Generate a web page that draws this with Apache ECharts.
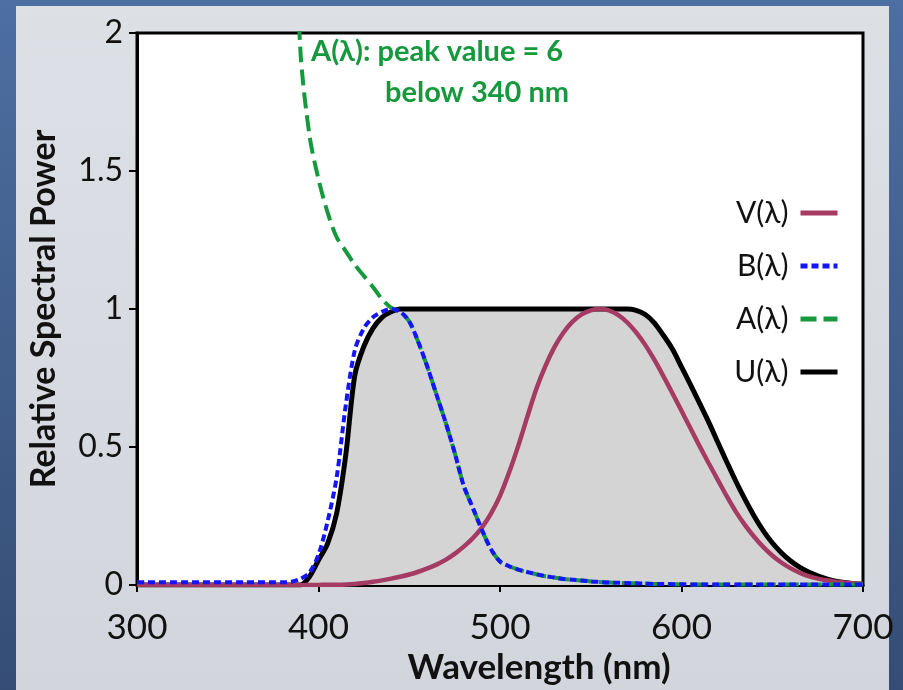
<!DOCTYPE html>
<html>
<head>
<meta charset="utf-8">
<script src="https://cdn.jsdelivr.net/npm/echarts@6/dist/echarts.min.js"></script>
<style>
html,body{margin:0;padding:0;background:#4a6a99;}
#chart{width:903px;height:690px;}
</style>
</head>
<body>
<div id="chart"></div>
<script>
// Wavelength grid (nm)
const wavelengths = [300,305,310,315,320,325,330,335,340,345,350,355,360,365,370,375,
  380,385,390,395,400,405,410,415,420,425,430,435,440,445,450,455,460,465,470,475,
  480,485,490,495,500,505,510,515,520,525,530,535,540,545,550,555,560,565,570,575,
  580,585,590,595,600,605,610,615,620,625,630,635,640,645,650,655,660,665,670,675,
  680,685,690,695,700];

// V(λ) photopic luminous efficiency
const V = [0,0,0,0,0,0,0,0,0,0,0,0,0,0,0,0,
  0.00004,0.00006,0.00012,0.0002,0.0004,0.0006,0.0012,0.0022,0.004,0.0073,0.0116,0.0168,0.023,0.0298,
  0.038,0.048,0.06,0.0739,0.091,0.1126,0.139,0.1693,0.208,0.2586,0.323,0.4073,0.503,0.6082,0.71,0.7932,
  0.862,0.9149,0.954,0.9803,0.995,1.0,0.995,0.9786,0.952,0.9154,0.87,0.8163,0.757,0.6949,0.631,0.5668,
  0.503,0.4412,0.381,0.321,0.265,0.217,0.175,0.1382,0.107,0.0816,0.061,0.0446,0.032,0.0232,0.017,0.0119,
  0.0082,0.0057,0.0041];

// B(λ) blue-light hazard
const B = [0.01,0.01,0.01,0.01,0.01,0.01,0.01,0.01,0.01,0.01,0.01,0.01,0.01,0.01,0.01,0.01,0.01,
  0.012,0.022,0.045,0.11,0.23,0.39,0.65,0.85,0.93,0.97,0.99,1.0,0.99,0.955,0.88,0.79,0.69,0.59,0.48,
  0.36,0.28,0.2,0.13,0.085,0.068,0.056,0.047,0.039,0.032,0.027,0.022,0.019,0.016,0.013,0.011,0.009,0.008,
  0.007,0.006,0.005,0.004,0.004,0.003,0.003,
  0.002,0.002,0.002,0.002,0.002,0.002,0.002,0.002,0.002,0.002,0.002,0.002,0.002,0.002,0.002,0.002,0.002,
  0.002,0.002,0.002];

// A(λ) aphakic hazard (peak 6 below 340 nm)
const A = [6,6,6,6,6,6,6,6,6,5.9,5.7,5.5,5.2,4.7,4.3,3.8,3.4,2.8,1.94,1.63,1.47,1.35,1.26,1.21,1.16,
  1.12,1.08,1.035,1.005,0.99,0.955,0.88,0.79,0.69,0.59,0.48,
  0.36,0.28,0.2,0.13,0.085,0.068,0.056,0.047,0.039,0.032,0.027,0.022,0.019,0.016,0.013,0.011,0.009,0.008,
  0.007,0.006,0.005,0.004,0.004,0.003,0.003,
  0.002,0.002,0.002,0.002,0.002,0.002,0.002,0.002,0.002,0.002,0.002,0.002,0.002,0.002,0.002,0.002,0.002,
  0.002,0.002,0.002];

// U(λ) envelope
const U = [0,0,0,0,0,0,0,0,0,0,0,0,0,0,0,0,0,0,0,
  0.03,0.09,0.15,0.26,0.47,0.76,0.865,0.93,0.97,0.99,1.0,1.0,1.0,1.0,1.0,1.0,1.0,1.0,1.0,1.0,1.0,1.0,1.0,
  1.0,1.0,1.0,1.0,1.0,1.0,1.0,1.0,1.0,1.0,1.0,1.0,1.0,0.995,0.98,0.95,0.905,0.855,0.79,0.725,0.658,0.59,
  0.517,0.445,0.375,0.31,0.25,0.197,0.153,0.117,0.088,0.065,0.047,0.033,0.022,0.014,0.009,0.005,0.003];

const seriesNames = ['V(λ)', 'B(λ)', 'A(λ)', 'U(λ)'];
const yTicks = [0, 0.5, 1, 1.5, 2];
const xTicks = [300, 400, 500, 600, 700];
const noteLines = ['A(λ): peak value = 6', 'below 340 nm'];

function pairs(ys) { return wavelengths.map((w, i) => [w, ys[i]]); }

const chart = echarts.init(document.getElementById('chart'), null, {renderer: 'canvas'});
const FONT = 'Lato, "Open Sans", sans-serif';
const SMOOTH = 0.3;

chart.setOption({
  backgroundColor: 'transparent',
  animation: false,
  graphic: [
    { type: 'rect', z: -100, silent: true, shape: {x: 0, y: 0, width: 903, height: 690},
      style: { fill: new echarts.graphic.LinearGradient(0, 0, 0, 1, [
        {offset: 0, color: '#4d6fa1'}, {offset: 1, color: '#354d75'}]) } },
    { type: 'rect', z: -99, silent: true, shape: {x: 16, y: 6, width: 873, height: 684},
      style: { fill: new echarts.graphic.LinearGradient(0, 0, 0, 1, [
        {offset: 0, color: '#dde0e5'}, {offset: 1, color: '#d2d6dc'}]) } },
    { type: 'text', z: 100, x: 311, y: 52, silent: true,
      style: { text: noteLines[0], fill: '#16993d', font: 'bold 29px ' + FONT, align: 'left', verticalAlign: 'middle' } },
    { type: 'text', z: 100, x: 385, y: 93, silent: true,
      style: { text: noteLines[1], fill: '#16993d', font: 'bold 29px ' + FONT, align: 'left', verticalAlign: 'middle' } }
  ],
  grid: {
    left: 137, right: 40, top: 33, bottom: 105,
    show: true, backgroundColor: '#ffffff', borderColor: '#000000', borderWidth: 3
  },
  legend: {
    data: seriesNames,
    orient: 'vertical',
    right: 58, top: 193,
    align: 'right',
    itemWidth: 37, itemHeight: 14, itemGap: 23,
    itemStyle: { opacity: 0 },
    lineStyle: { width: 5 },
    textStyle: { fontFamily: FONT, fontSize: 30, color: '#111', lineHeight: 30, padding: [0, 7, 0, 0] }
  },
  xAxis: {
    type: 'value', min: xTicks[0], max: xTicks[xTicks.length - 1], interval: 100,
    name: 'Wavelength (nm)', nameLocation: 'middle', nameGap: 64,
    nameTextStyle: { fontFamily: FONT, fontWeight: 'bold', fontSize: 35, color: '#111', padding: [0, 0, 0, 78] },
    axisLine: { lineStyle: { color: '#000', width: 3 } },
    axisTick: { show: true, inside: false, length: 7, lineStyle: { color: '#000', width: 2 } },
    axisLabel: { fontFamily: FONT, fontSize: 35, color: '#111', margin: 25 },
    splitLine: { show: false }
  },
  yAxis: {
    type: 'value', min: yTicks[0], max: yTicks[yTicks.length - 1], interval: 0.5,
    name: 'Relative Spectral Power', nameLocation: 'middle', nameGap: 76, nameRotate: 90,
    nameTextStyle: { fontFamily: FONT, fontWeight: 'bold', fontSize: 34, color: '#111' },
    axisLine: { lineStyle: { color: '#000', width: 3 } },
    axisTick: { show: true, inside: false, length: 8, lineStyle: { color: '#000', width: 2 } },
    axisLabel: { fontFamily: FONT, fontSize: 32, color: '#111', margin: 14 },
    splitLine: { show: false }
  },
  series: [
    { name: 'U(λ)', type: 'line', data: pairs(U), symbol: 'none', smooth: SMOOTH,
      lineStyle: { color: '#000', width: 5 }, itemStyle: { color: '#000' },
      areaStyle: { color: '#d4d4d4', opacity: 1 }, z: 2 },
    { name: 'V(λ)', type: 'line', data: pairs(V), symbol: 'none', smooth: SMOOTH,
      lineStyle: { color: '#a53a63', width: 4.5 }, itemStyle: { color: '#a53a63' }, z: 3 },
    { name: 'A(λ)', type: 'line', data: pairs(A), symbol: 'none', smooth: SMOOTH, clip: true,
      lineStyle: { color: '#16993d', width: 4, type: [16, 7] }, itemStyle: { color: '#16993d' }, z: 4 },
    { name: 'B(λ)', type: 'line', data: pairs(B), symbol: 'none', smooth: SMOOTH,
      lineStyle: { color: '#1414ff', width: 4, type: [7, 4] }, itemStyle: { color: '#1414ff' }, z: 5 }
  ]
});
</script>
</body>
</html>
